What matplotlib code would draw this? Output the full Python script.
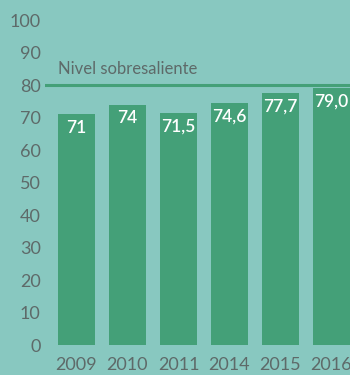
import matplotlib
matplotlib.use("Agg")
import matplotlib.pyplot as plt

years = ["2009", "2010", "2011", "2014", "2015", "2016"]
values = [71, 74, 71.5, 74.6, 77.7, 79.0]
value_labels = ["71", "74", "71,5", "74,6", "77,7", "79,0"]
threshold = 80
threshold_label = "Nivel sobresaliente"
yticks = [0, 10, 20, 30, 40, 50, 60, 70, 80, 90, 100]

bg = "#88c8c0"
green = "#44a078"
gray = "#5e6a69"

plt.rcParams["font.family"] = ["Lato", "DejaVu Sans"]

fig = plt.figure(figsize=(3.5, 3.75), dpi=100, facecolor=bg)
ax = fig.add_axes([0.128, 0.08, 0.872, 0.92], facecolor=bg)

x = list(range(len(years)))
ax.bar(x, values, width=0.725, color=green, zorder=2)

for xi, v, lab in zip(x, values, value_labels):
    ax.annotate(lab, (xi, v), xytext=(0, -4), textcoords="offset points",
                ha="center", va="top", color="white", fontsize=12.5,
                fontweight="semibold", zorder=3)

ax.axhline(threshold, color=green, linewidth=2.2, zorder=1)
ax.text(-0.36, threshold + 2.4, threshold_label, color=gray, fontsize=12,
        ha="left", va="bottom")

ax.set_xlim(-0.62, 5.3625)
ax.set_ylim(0, 106.2)
ax.set_xticks(x)
ax.set_xticklabels(years)
ax.set_yticks(yticks)
ax.tick_params(axis="both", length=0, colors=gray, labelsize=13)
ax.tick_params(axis="x", pad=9)
ax.tick_params(axis="y", pad=3)
for s in ax.spines.values():
    s.set_visible(False)

fig.savefig("out.png", dpi=100, facecolor=bg)
